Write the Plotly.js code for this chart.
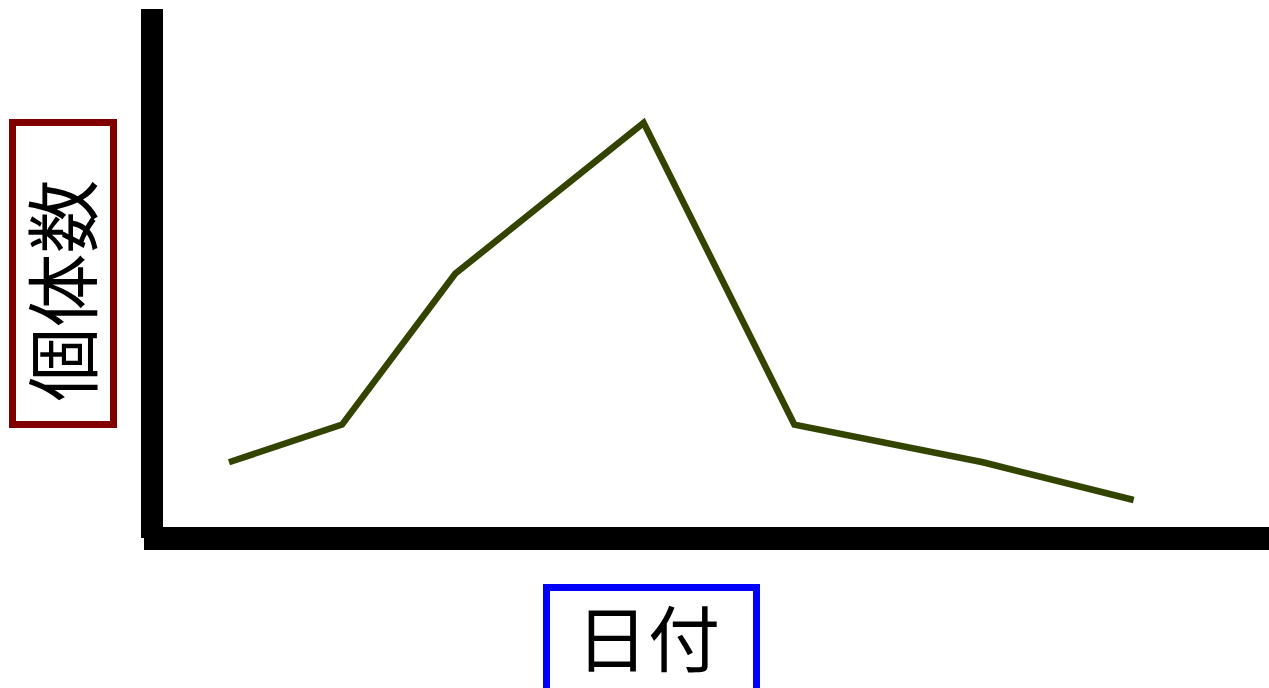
<!DOCTYPE html>
<html>
<head>
<meta charset="utf-8">
<script src="https://cdn.plot.ly/plotly-3.0.1.min.js"></script>
<style>html,body{margin:0;padding:0;background:#fff;}#chart{width:1269px;height:688px;}</style>
</head>
<body>
<div id="chart"></div>
<script>
// Data
var days = [0, 3, 6, 11, 15, 20, 24];
var counts = [1, 2, 6, 10, 2, 1, 0];
var xTitle = "日付";
var yTitle = "個体数";

// Layout geometry (pixels)
var W = 1269, H = 688;
var L = 163, T = 9, R = 0, B = 161;
var PW = W - L - R, PH = H - T - B;
function px(x) { return (x - L) / PW; }
function py(y) { return (H - B - y) / PH; }

var trace = {
  x: days, y: counts, type: 'scatter', mode: 'lines',
  line: {color: '#334400', width: 6.5},
  hoverinfo: 'skip'
};

var layout = {
  width: W, height: H,
  margin: {l: L, r: R, t: T, b: B, pad: 0},
  paper_bgcolor: '#ffffff', plot_bgcolor: '#ffffff',
  showlegend: false,
  font: {family: '"Noto Sans CJK JP", "Noto Sans", sans-serif', color: '#000'},
  xaxis: {range: [-1.75, 27.59], showgrid: false, zeroline: false, showticklabels: false, ticks: '', showline: false, fixedrange: true},
  yaxis: {range: [-0.716, 13.02], showgrid: false, zeroline: false, showticklabels: false, ticks: '', showline: false, fixedrange: true},
  shapes: [
    {type: 'line', xref: 'paper', yref: 'paper', x0: px(152), x1: px(152), y0: py(9), y1: py(538), line: {color: '#000', width: 22}},
    {type: 'line', xref: 'paper', yref: 'paper', x0: px(144), x1: px(1275), y0: py(538.5), y1: py(538.5), line: {color: '#000', width: 23}},
    {type: 'rect', xref: 'paper', yref: 'paper', x0: px(12.5), x1: px(113.5), y0: py(424.5), y1: py(122.5), line: {color: '#800000', width: 7}},
    {type: 'rect', xref: 'paper', yref: 'paper', x0: px(546.5), x1: px(756.5), y0: py(700), y1: py(587.5), line: {color: '#0000ff', width: 7}}
  ],
  annotations: [
    {text: yTitle, xref: 'paper', yref: 'paper', x: px(57.5), y: py(291), xanchor: 'center', yanchor: 'middle', textangle: -90, showarrow: false, font: {size: 74, color: '#000'}},
    {text: xTitle, xref: 'paper', yref: 'paper', x: px(648), y: py(634), xanchor: 'center', yanchor: 'middle', showarrow: false, font: {size: 72, color: '#000'}}
  ]
};

Plotly.newPlot('chart', [trace], layout, {displayModeBar: false, staticPlot: true});
</script>
</body>
</html>
